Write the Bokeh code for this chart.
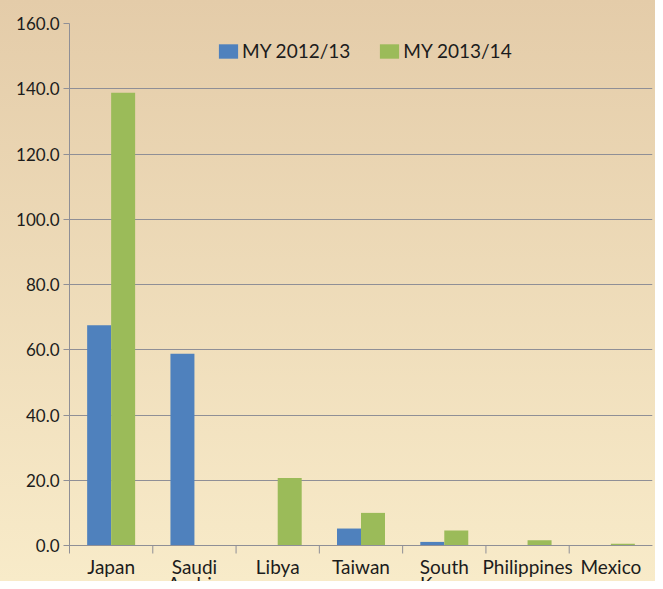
from bokeh.plotting import figure
from bokeh.models import Range1d, FixedTicker, NumeralTickFormatter, ColumnDataSource, Legend, LegendItem, Span
from bokeh.core.properties import value
from bokeh.embed import file_html
from bokeh.resources import INLINE

countries = ["Japan", "Saudi\nArabia", "Libya", "Taiwan", "South\nKorea", "Philippines", "Mexico"]
my_2012_13 = [67.5, 58.8, 0.0, 5.2, 1.1, 0.0, 0.0]
my_2013_14 = [138.8, 0.0, 20.7, 10.0, 4.6, 1.6, 0.5]
y_ticks = [0, 20, 40, 60, 80, 100, 120, 140, 160]
series_names = ["MY 2012/13", "MY 2013/14"]

# layout constants (pixels)
FIG_W, FIG_H = 655, 581
TOP, LEFT, RIGHT = 23, 69, 3
PLOT_H = 522                      # pixel height of the 0..160 value span
Y_MAX = 160
PX = PLOT_H / Y_MAX               # pixels per unit
BOTTOM_EXTRA = FIG_H - TOP - PLOT_H  # frame extends below zero for the category axis

BAR_W = 0.288
n = len(countries)
idx = list(range(n))
src = ColumnDataSource(dict(
    x1=[i + 0.5 - BAR_W / 2 for i in idx],
    x2=[i + 0.5 + BAR_W / 2 for i in idx],
    v1=my_2012_13,
    v2=my_2013_14,
))

GRID = "#8f8f96"
TXT = "#1c1c1c"
FONT = "Lato"

p = figure(width=FIG_W, height=FIG_H, output_backend="svg", toolbar_location=None,
           x_range=Range1d(0, n), y_range=Range1d(-BOTTOM_EXTRA / PX, Y_MAX),
           x_axis_location=None,
           min_border_left=LEFT, min_border_right=RIGHT, min_border_top=TOP, min_border_bottom=0)
p.background_fill_color = None
p.border_fill_color = None
p.outline_line_color = None
p.styles = {"background-image": "linear-gradient(to bottom, #e4cca9, #f8ebc9)"}

# grid
p.xgrid.visible = False
p.ygrid.ticker = FixedTicker(ticks=y_ticks)
p.ygrid.grid_line_color = GRID
p.ygrid.grid_line_width = 1

r1 = p.vbar(x="x1", top="v1", width=BAR_W, source=src, fill_color="#4f81bd", line_color=None)
r2 = p.vbar(x="x2", top="v2", width=BAR_W, source=src, fill_color="#9bbb59", line_color=None)

# category axis at value 0: line, ticks between categories, labels
p.add_layout(Span(location=0, dimension="width", line_color=GRID, line_width=1))
TICK_LEN = 8 / PX
p.segment(x0=idx[1:], y0=[0] * (n - 1), x1=idx[1:], y1=[-TICK_LEN] * (n - 1), line_color=GRID, line_width=1)
p.text(x=[i + 0.5 for i in idx], y=[-9 / PX] * n, text=countries,
       text_align="center", text_baseline="top", text_font=value(FONT),
       text_font_size="19px", text_color=TXT, text_line_height=0.74)

# value axis
p.yaxis.ticker = FixedTicker(ticks=y_ticks)
p.yaxis.bounds = (-TICK_LEN, Y_MAX)
p.yaxis.formatter = NumeralTickFormatter(format="0.0")
p.yaxis.major_tick_line_color = GRID
p.yaxis.major_tick_out = 6
p.yaxis.major_tick_in = 0
p.yaxis.minor_tick_line_color = None
p.yaxis.axis_line_color = GRID
p.yaxis.major_label_text_font = FONT
p.yaxis.major_label_text_font_size = "17px"
p.yaxis.major_label_text_color = TXT
p.yaxis.major_label_standoff = 4

frame_h = FIG_H - TOP
legend = Legend(items=[LegendItem(label=series_names[0], renderers=[r1]),
                       LegendItem(label=series_names[1], renderers=[r2])],
                orientation="horizontal", location=(147, frame_h - 21 - 18),
                glyph_width=24, glyph_height=18, label_height=18, label_standoff=2,
                spacing=27, padding=0, margin=0,
                border_line_color=None, background_fill_alpha=0,
                label_text_font=FONT, label_text_font_size="19px", label_text_color=TXT)
p.add_layout(legend)

open("out.html", "w").write(file_html(p, INLINE))
